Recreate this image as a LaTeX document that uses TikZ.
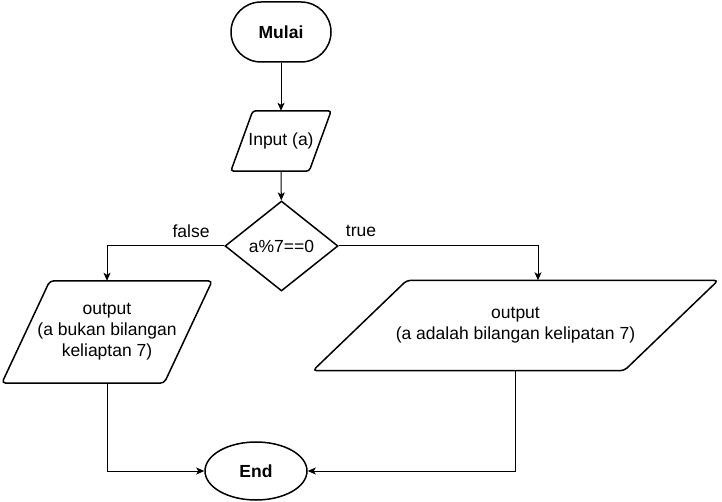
\documentclass[tikz,border=0pt]{standalone}
\usepackage{fontspec}
\setmainfont{Liberation Sans}
\usetikzlibrary{shapes.geometric,arrows.meta}

\begin{document}
\begin{tikzpicture}[x=1pt,y=-1pt,
  txt/.style={align=center,inner sep=0pt,font=\fontsize{17.5}{21}\selectfont},
  shp/.style={line width=1.5pt},
  arrow/.style={line width=1pt,-{Stealth[length=8pt,width=7pt,inset=2pt]}}]
\useasboundingbox (0,0) rectangle (722,502);

% start and input
\node[txt,shp,draw,rounded corners=30,minimum width=100,minimum height=60] (mulai) at (281,32) {\textbf{Mulai}};
\node[txt,minimum width=100,minimum height=60] (input) at (281,141) {Input (a)};
\draw[shp,rounded corners=3] ([xshift=22]input.north west) -- (input.north east) -- ([xshift=-22]input.south east) -- (input.south west) -- cycle;

% decision
\node[txt,shp,draw,diamond,minimum width=113,minimum height=90] (cek) at (281.5,246) {a\%7==0};
\node[txt] (lblF) at (191,231) {false};
\node[txt] (lblT) at (361,231) {true};

% outputs
\node[txt,minimum width=210,minimum height=102] (outF) at (107,332) {output\\(a bukan bilangan\\keliaptan 7)};
\draw[shp,rounded corners=4] ([xshift=48]outF.north west) -- (outF.north east) -- ([xshift=-48]outF.south east) -- (outF.south west) -- cycle;
\node[txt,minimum width=405,minimum height=90] (outT) at (515.5,325.5) {output\\(a adalah bilangan kelipatan 7)};
\draw[shp,rounded corners=4] ([xshift=94]outT.north west) -- (outT.north east) -- ([xshift=-94]outT.south east) -- (outT.south west) -- cycle;

% end
\node[txt,shp,draw,ellipse,minimum width=102,minimum height=58] (end) at (256,471) {\textbf{End}};

\draw[arrow] (mulai) -- (input);
\draw[arrow] (input) -- (cek);
\draw[arrow] (cek.west) -| (outF.north);
\draw[arrow] (cek.east) -| ([xshift=22.5]outT.north);
\draw[arrow] (outF.south) |- (end.west);
\draw[arrow] (outT.south) |- (end.east);
\end{tikzpicture}
\end{document}
